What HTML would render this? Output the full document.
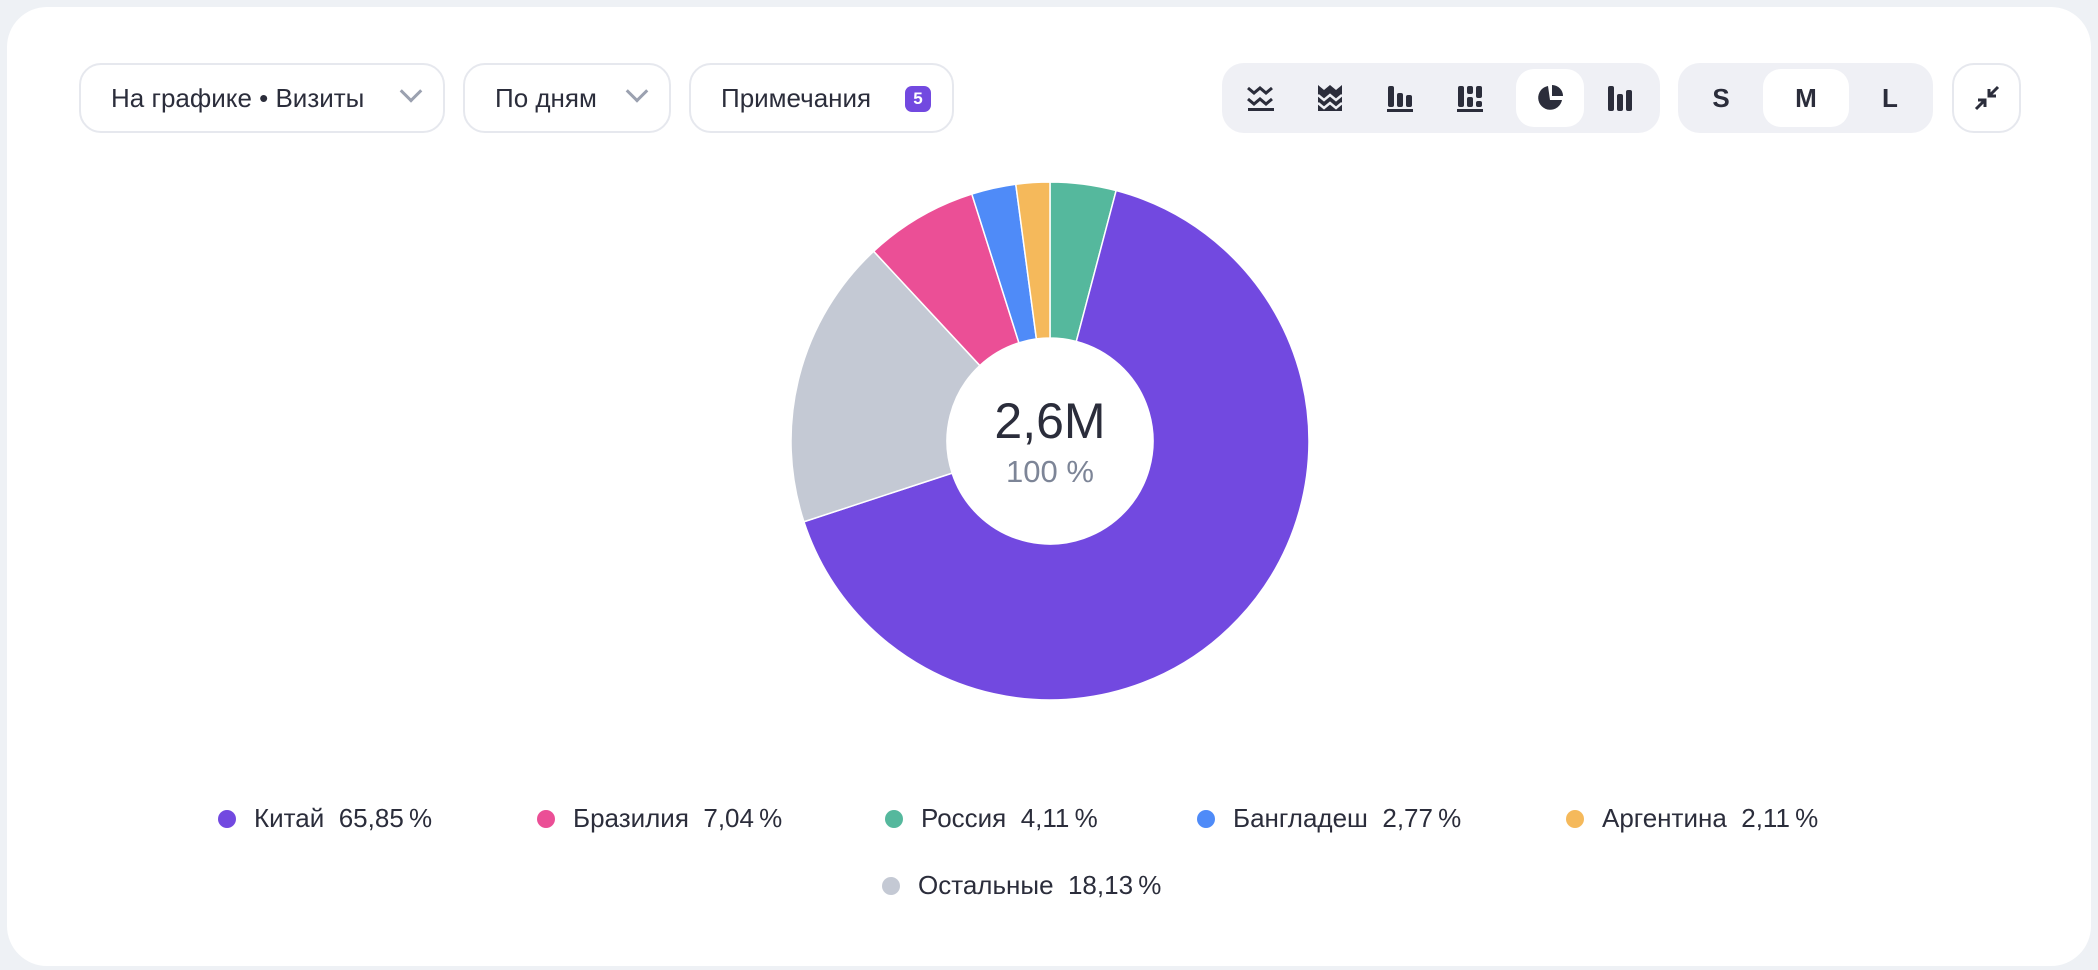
<!DOCTYPE html>
<html><head><meta charset="utf-8"><style>
*{box-sizing:border-box}
body{margin:0;width:2098px;height:970px;background:#eef1f5;font-family:"Liberation Sans",sans-serif;color:#2b2d3b;position:relative;overflow:hidden}
.card{position:absolute;left:7px;top:7px;width:2084px;height:959px;background:#fff;border-radius:40px}
.btn{position:absolute;top:63px;height:70px;border:2px solid #e6e8ee;border-radius:22px;background:#fff;font-size:26px;display:flex;align-items:center;padding-left:30px}
.chev{position:absolute;right:24px;top:24px;width:16px;height:16px;border-right:3px solid #9ba1b0;border-bottom:3px solid #9ba1b0;transform:rotate(45deg) translate(-4px,-4px)}
.grp{position:absolute;top:63px;height:70px;background:#eff0f5;border-radius:22px}
.seg{position:absolute;top:6px;height:58px;border-radius:18px;display:flex;align-items:center;justify-content:center;font-size:26px;font-weight:bold}
.leg{position:absolute;font-size:26px;display:flex;align-items:center;white-space:nowrap}
.dot{width:18px;height:18px;border-radius:50%;margin-right:18px}
</style></head><body>
<div class="card"></div>
<div class="btn" style="left:79px;width:366px">На графике • Визиты<span class="chev"></span></div>
<div class="btn" style="left:463px;width:208px">По дням<span class="chev"></span></div>
<div class="btn" style="left:689px;width:265px">Примечания<span style="position:absolute;left:214px;top:21px;width:26px;height:26px;border-radius:7px;background:#7249e0;color:#fff;font-size:17px;font-weight:bold;display:flex;align-items:center;justify-content:center">5</span></div>
<div class="grp" style="left:1222px;width:438px">
 <div class="seg" style="left:8px;width:60px"><svg width="28" height="28"><path d="M2 4l6 5 6-5 6 5 6-5M2 15l6 5 6-5 6 5 6-5" stroke="#2b2d3b" stroke-width="3" fill="none"/><rect x="2" y="24" width="26" height="3" fill="#2b2d3b"/></svg></div>
 <div class="seg" style="left:78px;width:60px"><svg width="28" height="30"><path d="M2 2l6 5 6-5 6 5 6-5V28H2z" fill="#2b2d3b"/><path d="M2 12l6 5 6-5 6 5 6-5M2 20l6 5 6-5 6 5 6-5" stroke="#eff0f5" stroke-width="2.5" fill="none"/></svg></div>
 <div class="seg" style="left:148px;width:60px"><svg width="28" height="30"><rect x="2" y="3" width="6" height="21" rx="2" fill="#2b2d3b"/><rect x="11" y="10" width="6" height="14" rx="2" fill="#2b2d3b"/><rect x="20" y="12" width="6" height="12" rx="2" fill="#2b2d3b"/><rect x="1" y="26" width="26" height="3" fill="#2b2d3b"/></svg></div>
 <div class="seg" style="left:218px;width:60px"><svg width="28" height="30"><rect x="2" y="3" width="6" height="21" rx="2" fill="#2b2d3b"/><rect x="11" y="3" width="6" height="8" rx="2" fill="#2b2d3b"/><rect x="11" y="14" width="6" height="10" rx="2" fill="#2b2d3b"/><rect x="20" y="3" width="6" height="12" rx="2" fill="#2b2d3b"/><rect x="20" y="18" width="6" height="6" rx="2" fill="#2b2d3b"/><rect x="1" y="26" width="26" height="3" fill="#2b2d3b"/></svg></div>
 <div class="seg" style="left:294px;width:68px;background:#fff"><svg width="28" height="28"><path d="M12 2A12 12 0 1 0 26 16H14L12 2z" fill="#2b2d3b"/><path d="M16 1A11 11 0 0 1 27 12H16z" fill="#2b2d3b"/></svg></div>
 <div class="seg" style="left:368px;width:60px"><svg width="26" height="28"><rect x="1" y="2" width="6" height="25" rx="2" fill="#2b2d3b"/><rect x="10" y="10" width="6" height="17" rx="2" fill="#2b2d3b"/><rect x="19" y="6" width="6" height="21" rx="2" fill="#2b2d3b"/></svg></div>
</div>
<div class="grp" style="left:1678px;width:255px">
 <div class="seg" style="left:8px;width:70px">S</div>
 <div class="seg" style="left:85px;width:86px;background:#fff">M</div>
 <div class="seg" style="left:177px;width:70px">L</div>
</div>
<div class="btn" style="left:1952px;width:69px;padding:0;justify-content:center"><svg width="26" height="26"><path d="M24 2l-9 9M15 4v7h7M2 24l9-9M11 22v-7H4" stroke="#2b2d3b" stroke-width="3" fill="none"/></svg></div>

<svg id="pie" width="2098" height="970" style="position:absolute;left:0;top:0"></svg>
<div style="position:absolute;left:950px;top:392px;width:200px;text-align:center;font-size:50px">2,6M</div>
<div style="position:absolute;left:950px;top:454px;width:200px;text-align:center;font-size:31px;color:#7d8597">100 %</div>
<div id="legend"></div>
<script>
const order=["Россия","Китай","Остальные","Бразилия","Бангладеш","Аргентина"];
const values=[4.11,65.85,18.13,7.04,2.77,2.11];
const colors=["#55b89d","#7249e0","#c4c9d4","#eb4f96","#4f8bf8","#f5b95b"];
const legendNames=["Китай","Бразилия","Россия","Бангладеш","Аргентина","Остальные"];
const legendValues=["65,85","7,04","4,11","2,77","2,11","18,13"];
const legendColors=["#7249e0","#eb4f96","#55b89d","#4f8bf8","#f5b95b","#c4c9d4"];
const cx=1050,cy=441,R=259,r0=103;
const svg=document.getElementById('pie');
const total=values.reduce((a,b)=>a+b,0);
let acc=0;
function pt(a,rad){return [cx+rad*Math.sin(a),cy-rad*Math.cos(a)];}
values.forEach((v,i)=>{
 const a0=acc/total*2*Math.PI;acc+=v;const a1=acc/total*2*Math.PI;
 const large=(a1-a0)>Math.PI?1:0;
 const p0=pt(a0,R),p1=pt(a1,R),q1=pt(a1,r0),q0=pt(a0,r0);
 const p=document.createElementNS('http://www.w3.org/2000/svg','path');
 p.setAttribute('d',`M${p0}A${R},${R} 0 ${large} 1 ${p1}L${q1}A${r0},${r0} 0 ${large} 0 ${q0}Z`);
 p.setAttribute('fill',colors[i]);p.setAttribute('stroke','#fff');p.setAttribute('stroke-width','1.5');
 
 
 svg.appendChild(p);
});
const lx=[227,546,894,1206,1575,891],ly=[819,819,819,819,819,886];
const lg=document.getElementById('legend');
legendNames.forEach((n,i)=>{
 const d=document.createElement('div');d.className='leg';
 d.style.left=(lx[i]-9)+'px';d.style.top=(ly[i]-16)+'px';
 d.innerHTML=`<span class="dot" style="background:${legendColors[i]}"></span>${n}&nbsp;&nbsp;${legendValues[i]}&thinsp;%`;
 
 
 lg.appendChild(d);
});
</script>
</body></html>
